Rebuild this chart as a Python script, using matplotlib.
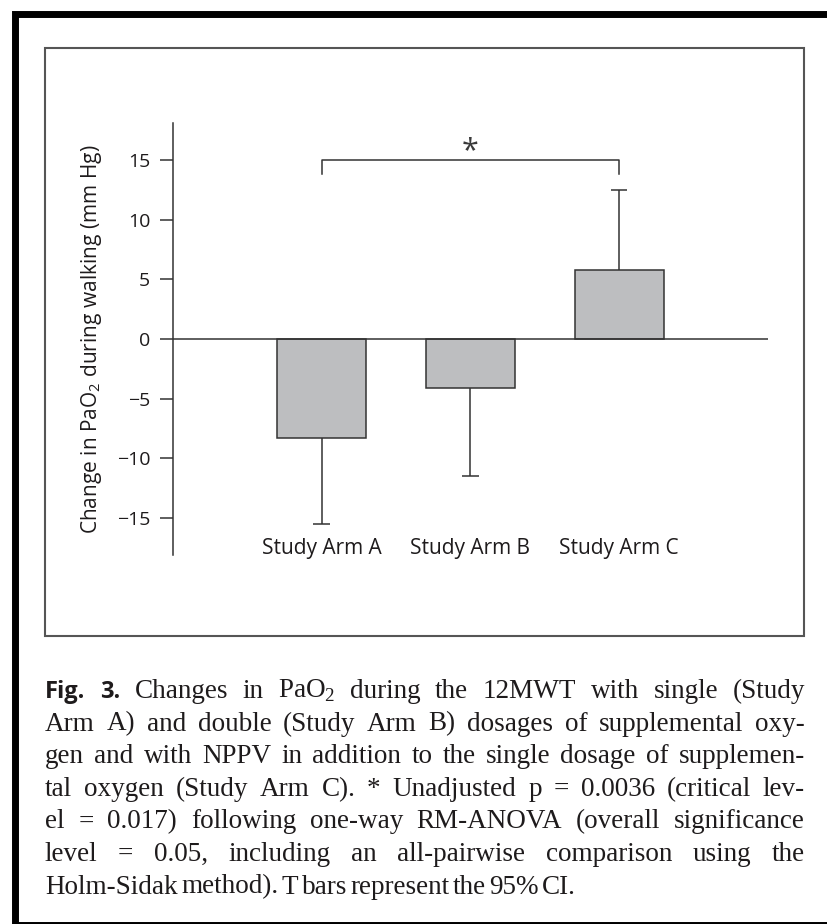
import matplotlib.pyplot as plt
from matplotlib.patches import Rectangle

# data
arms = ['Study Arm A', 'Study Arm B', 'Study Arm C']
change = [-8.3, -4.1, 5.8]        # mean change in PaO2 (mm Hg)
ci_end = [-15.5, -11.5, 12.5]     # far end of the 95% CI T bar
y_ticks = [-15, -10, -5, 0, 5, 10, 15]
sig_pair = [0, 2]                 # arms A and C
sig_level = 15.0
sig_drop = 13.8
sig_mark = '*'

caption = [
    'Fig. 3. Changes in PaO$_\\mathrm{2}$ during the 12MWT with single (Study',
    'Arm A) and double (Study Arm B) dosages of supplemental oxy-',
    'gen and with NPPV in addition to the single dosage of supplemen-',
    'tal oxygen (Study Arm C). * Unadjusted p = 0.0036 (critical lev-',
    'el = 0.017) following one-way RM-ANOVA (overall significance',
    'level = 0.05, including an all-pairwise comparison using the',
    'Holm-Sidak method). T bars represent the 95% CI.',
]

plt.rcParams['font.family'] = ['Open Sans', 'DejaVu Sans']
plt.rcParams['mathtext.fontset'] = 'custom'
plt.rcParams['mathtext.rm'] = 'Liberation Serif'
plt.rcParams['mathtext.sf'] = 'Open Sans'

W, H = 828, 924
ink = '#1e1b1c'
stroke = '#333333'
lw = 1.1

fig = plt.figure(figsize=(W / 100, H / 100), dpi=100)
ax = fig.add_axes([172.7 / W, 1 - 555 / H, (768 - 172.7) / W, (555 - 123) / H])
ax.set_xlim(-1, 3)
ax.set_ylim(-18.1, 18.1)

x = list(range(len(arms)))
ax.bar(x, change, width=0.6, color='#bdbec0', edgecolor=stroke, linewidth=lw, zorder=2)
ax.vlines(x, change, ci_end, color=stroke, linewidth=lw, zorder=1)
ax.hlines(ci_end, [i - 0.055 for i in x], [i + 0.055 for i in x], color=stroke, linewidth=lw)
ax.axhline(0, color=stroke, linewidth=lw, zorder=3)

a, b = sig_pair
ax.plot([a, a, b, b], [sig_drop, sig_level, sig_level, sig_drop], color=stroke, linewidth=lw)
ax.text((a + b) / 2, sig_level + 0.1, sig_mark, ha='center', va='baseline',
        fontsize=22, color='#3a3a3a')

for s in ['top', 'right', 'bottom']:
    ax.spines[s].set_visible(False)
ax.spines['left'].set_color(stroke)
ax.spines['left'].set_linewidth(lw)

ax.set_yticks(y_ticks)
ax.tick_params(axis='y', length=9.4, width=lw, color=stroke, pad=6.7, labelsize=14, labelcolor=ink)
ax.set_xticks(x, arms)
ax.tick_params(axis='x', length=0, pad=-12, labelsize=15, labelcolor=ink)
ax.set_ylabel('Change in PaO$_\\mathsf{2}$ during walking (mm Hg)', fontsize=15, color=ink)
ax.yaxis.set_label_coords(-0.115, 0.5)

# frames
fig.add_artist(Rectangle((45 / W, 1 - 635.7 / H), (804 - 45) / W, (635.7 - 47.5) / H,
                         transform=fig.transFigure, fill=False, edgecolor='#555555', linewidth=1.5))
fig.add_artist(Rectangle((14.5 / W, 1 - 924.5 / H), 840 / W, (924.5 - 13.5) / H,
                         transform=fig.transFigure, fill=False, edgecolor='black', linewidth=5))

# justified caption
renderer = fig.canvas.get_renderer()
left, right = 45, 805
first_base, step = 698, 32.6
serif = dict(family='Liberation Serif', fontsize=19.5, color=ink)
bold = dict(family='Open Sans', fontsize=17, fontweight='bold', color=ink)

probe = fig.text(0, 0, 'a a', **serif)
probe2 = fig.text(0, 0, 'aa', **serif)
space = 0.5 * (probe.get_window_extent(renderer).width - probe2.get_window_extent(renderer).width)
probe.remove()
probe2.remove()

for i, line in enumerate(caption):
    y = 1 - (first_base + i * step) / H
    words = line.split(' ')
    texts = []
    for j, w in enumerate(words):
        style = bold if (i == 0 and j < 2) else serif
        texts.append(fig.text(0, y, w, va='baseline', ha='left', **style))
    widths = [t.get_window_extent(renderer).width for t in texts]
    if i < len(caption) - 1:
        gap = (right - left - sum(widths)) / (len(words) - 1)
    else:
        gap = space
    pos = left
    for t, wd in zip(texts, widths):
        t.set_x(pos / W)
        pos += wd + gap

fig.savefig('out.png', dpi=100)
